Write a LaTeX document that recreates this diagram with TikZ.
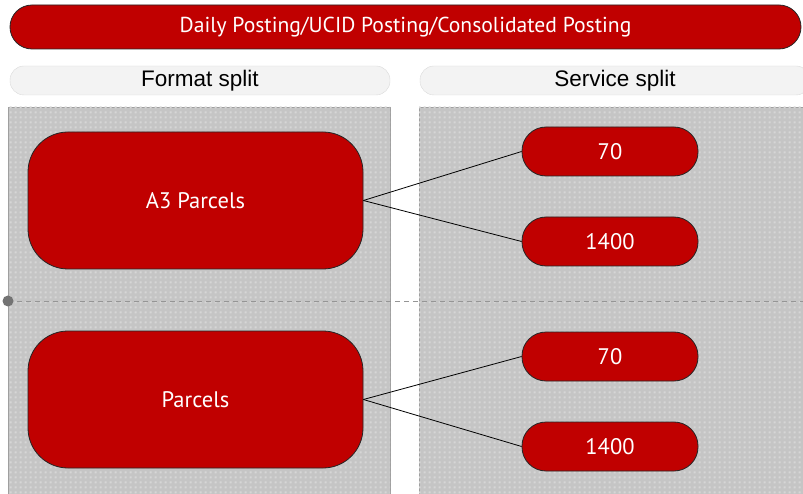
\documentclass[tikz,border=0pt]{standalone}
\usepackage{fontspec}
\setmainfont{Liberation Sans}
\newfontfamily\dinfont{PT Sans}
\usetikzlibrary{positioning,patterns.meta}

\definecolor{postred}{HTML}{C00000}
\definecolor{panelgray}{HTML}{C5C5C5}
\definecolor{panelspot}{HTML}{D6D6D6}
\definecolor{headfill}{HTML}{F3F3F3}
\definecolor{headedge}{HTML}{DADADA}
\definecolor{splitgray}{HTML}{959595}

\tikzdeclarepattern{
  name=squaregrid, type=uncolored,
  bounding box={(0pt,0pt) and (4.5pt,4.5pt)},
  tile size={(4.5pt,4.5pt)},
  code={\fill (0.8pt,0.8pt) rectangle (2.9pt,2.9pt);}
}

\tikzset{
  redbox/.style={draw=black!85, fill=postred, text=white, line width=0.8pt,
    font=\dinfont\fontsize{22.5}{26}\selectfont},
  bigbox/.style={redbox, rounded corners=40pt, minimum width=335pt, minimum height=137pt},
  pill/.style={redbox, rounded corners=24pt, minimum width=176pt, minimum height=49pt},
  header/.style={draw=headedge, fill=headfill, rounded corners=14pt, minimum height=29pt,
    font=\fontsize{22.5}{26}\selectfont},
  panel/.style={draw=gray!75, fill=panelgray, postaction={pattern=squaregrid, pattern color=panelspot}},
  link/.style={draw=black, line width=0.8pt},
}

\begin{document}
\begin{tikzpicture}[x=1pt, y=-1pt]
  \useasboundingbox (0,0) rectangle (803,494);

  % Panels
  \path[panel] (8,107) rectangle (390,500);
  \path[panel] (419,107) rectangle (810,500);

  % Title and headers
  \node[redbox, rounded corners=22pt, minimum width=791pt, minimum height=44pt,
    font=\dinfont\fontsize{21.6}{25}\selectfont]
    (title) at (405.5,27) {Daily Posting/UCID Posting/Consolidated Posting};
  \node[header, minimum width=380pt] (format) at (200,80.5) {Format split};
  \node[header, minimum width=390pt] (service) at (615,80.5) {Service split};

  % Split line
  \coordinate (splitL) at (8,301);
  \coordinate (splitR) at (803,301);
  \draw[splitgray, line width=0.8pt, dash pattern=on 5pt off 4pt] (splitL) -- (splitR);
  \fill[black!55] (splitL) circle (5.5pt);

  % Formats
  \node[bigbox] (a3)      at (195.5,200.5) {A3 Parcels};
  \node[bigbox] (parcels) at (195.5,399.5) {Parcels};

  % Services
  \node[pill] (a3-70)        at (610,151.5) {70};
  \node[pill] (a3-1400)      at (610,241.5) {1400};
  \node[pill] (parcels-70)   at (610,356.5) {70};
  \node[pill] (parcels-1400) at (610,446.5) {1400};

  % Links
  \draw[link] (a3.east) -- (a3-70.west);
  \draw[link] (a3.east) -- (a3-1400.west);
  \draw[link] (parcels.east) -- (parcels-70.west);
  \draw[link] (parcels.east) -- (parcels-1400.west);

\end{tikzpicture}
\end{document}
